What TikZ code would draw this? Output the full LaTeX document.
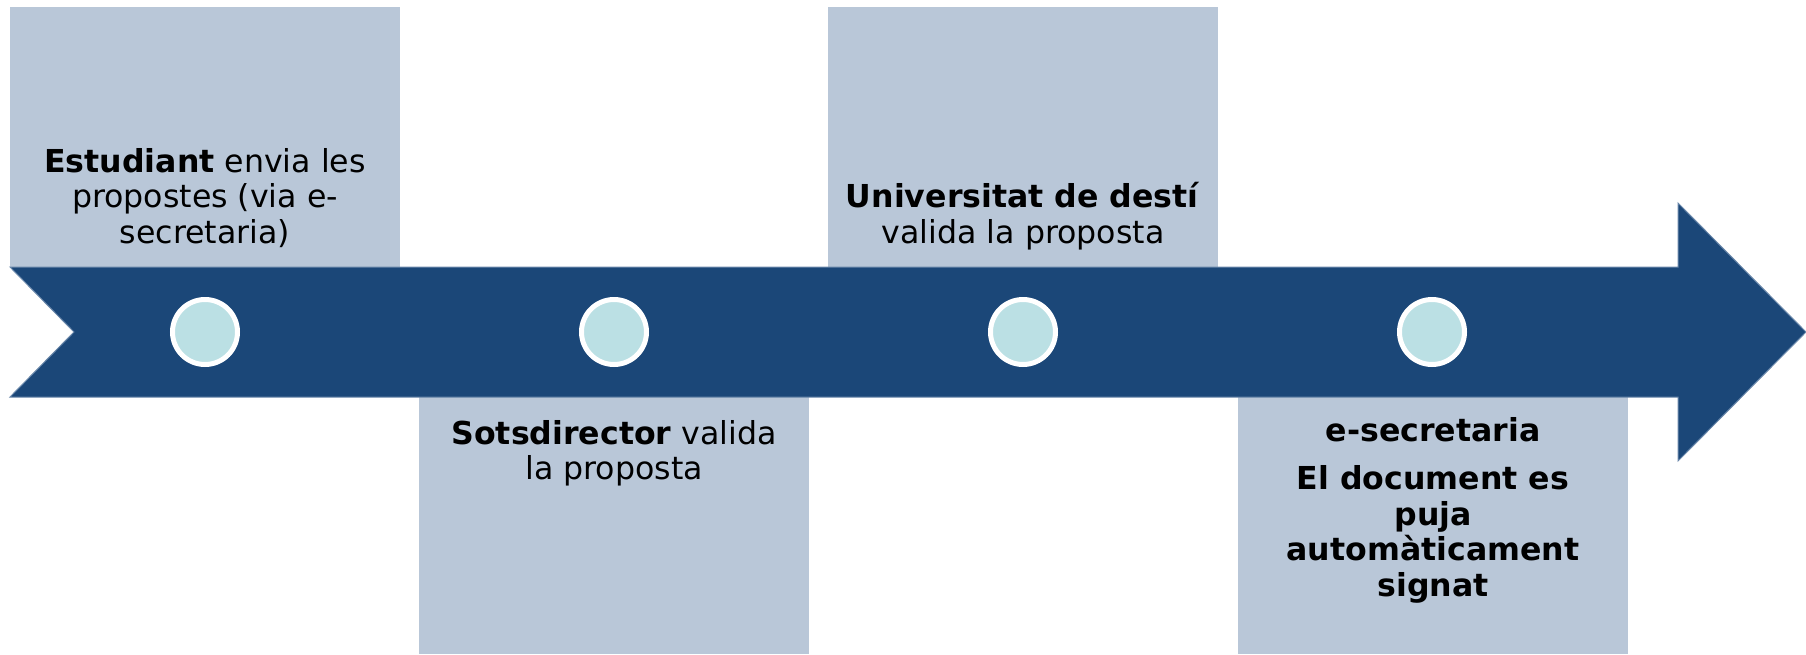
\documentclass[tikz,border=0pt]{standalone}
\usepackage{fontspec}
\setmainfont{DejaVu Sans}
\definecolor{bandblue}{RGB}{27,71,120}
\definecolor{bandedge}{RGB}{105,135,170}
\definecolor{boxgray}{RGB}{185,199,216}
\definecolor{dotfill}{RGB}{187,224,228}
\begin{document}
\begin{tikzpicture}[x=0.5pt,y=-0.5pt,
  panel/.style={rectangle, fill=boxgray, draw=none, inner sep=0, minimum width=195pt},
  dot/.style={circle, fill=dotfill, draw=white, line width=2.5pt, minimum size=32.5pt, inner sep=0},
  steptext/.style={align=center, inner sep=0, text=black, font=\fontsize{15.8}{17.7}\selectfont}]
\useasboundingbox (0,0) rectangle (1806,654);
\fill[white] (0,0) rectangle (1806,654);
% panels
\node[panel, minimum height=130pt] (p1) at (205,137) {};
\node[panel, minimum height=128.5pt] (p2) at (614,525.5) {};
\node[panel, minimum height=130pt] (p3) at (1023,137) {};
\node[panel, minimum height=128.5pt] (p4) at (1433,525.5) {};
% band arrow
\draw[fill=bandblue, draw=bandedge, line width=0.5pt]
  (10,267) -- (1678,267) -- (1678,203) -- (1806,332) -- (1678,461)
  -- (1678,397) -- (10,397) -- (74,332) -- cycle;
% dots
\node[dot] (c1) at (205,332) {};
\node[dot] (c2) at (614,332) {};
\node[dot] (c3) at (1023,332) {};
\node[dot] (c4) at (1432,332) {};
% texts
\node[steptext, anchor=base] (t1) at (205,243) {\textbf{Estudiant} envia les\\propostes (via e-\\secretaria)};
\node[steptext, anchor=base] (t2) at (614,479.5) {\textbf{Sotsdirector} valida\\la proposta};
\node[steptext, anchor=base] (t3) at (1023,243) {\textbf{Universitat de destí}\\valida la proposta};
\node[steptext, anchor=base, font=\fontsize{15.8}{17.7}\selectfont\bfseries] (t4) at (1433,596) {e-secretaria\\[6.5pt]El document es\\puja\\automàticament\\signat};
\end{tikzpicture}
\end{document}
